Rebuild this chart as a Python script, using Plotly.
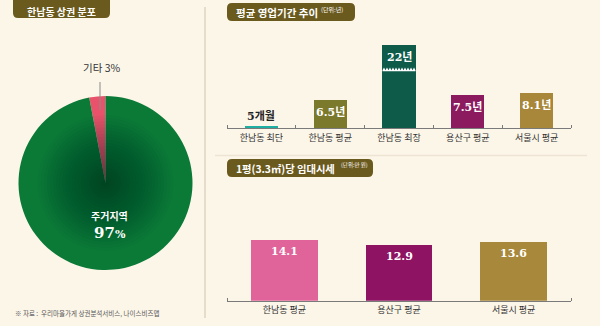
import plotly.graph_objects as go

W, H = 600, 326
BG = "#FCF6E9"
BADGE = "#6B5A1E"
KR = "Noto Sans CJK KR"
SERIF_KR = "DejaVu Serif, Noto Sans CJK KR"

# ---------- data ----------
area_labels = ["기타", "주거지역"]
area_shares = [3, 97]
area_colors = ["#E8536B", "#0B7A37"]

tenure_categories = ["한남동 최단", "한남동 평균", "한남동 최장", "용산구 평균", "서울시 평균"]
tenure_years = [5 / 12, 6.5, 22, 7.5, 8.1]
tenure_labels = ["5개월", "6.5년", "22년", "7.5년", "8.1년"]
tenure_colors = ["#1FAFA2", "#7B792B", "#0E5B4A", "#8C1A5F", "#A8873A"]
TENURE_AXIS_MAX = 18.95   # axis is broken: the 22-year bar is cut off at the top
TENURE_BREAK_AT = 13.2    # where the zigzag break mark is drawn

rent_categories = ["한남동 평균", "용산구 평균", "서울시 평균"]
rent_values = [14.1, 12.9, 13.6]
rent_colors = ["#E0649A", "#8E1363", "#A8883A"]
RENT_AXIS_MAX = 16.0

fig = go.Figure()

# ---------- pie ----------
cx, cy, R = 105.5, 183.0, 87.0
fig.add_trace(go.Pie(
    labels=area_labels, values=area_shares, sort=False,
    direction="clockwise", rotation=-10.8,
    marker=dict(colors=area_colors, line=dict(width=0)),
    textinfo="none", hoverinfo="skip", showlegend=False,
    domain=dict(x=[(cx - R) / W, (cx + R) / W], y=[1 - (cy + R) / H, 1 - (cy - R) / H]),
))

shapes = []
# radial darkening of the pie centre
N = 22
for i in range(N):
    r = R * 0.78 * (1 - i / N)
    shapes.append(dict(type="circle", xref="paper", yref="paper",
                       x0=(cx - r) / W, x1=(cx + r) / W,
                       y0=1 - (cy + r) / H, y1=1 - (cy - r) / H,
                       fillcolor="#002a10", opacity=0.03, line=dict(width=0)))

# ---------- bar charts ----------
fig.add_trace(go.Bar(
    x=list(range(len(tenure_categories))), y=tenure_years, width=0.48,
    marker=dict(color=tenure_colors, line=dict(width=0)),
    xaxis="x", yaxis="y", hoverinfo="skip", showlegend=False,
))
fig.add_trace(go.Bar(
    x=list(range(len(rent_categories))), y=rent_values, width=0.58,
    marker=dict(color=rent_colors, line=dict(width=0)),
    xaxis="x2", yaxis="y2", hoverinfo="skip", showlegend=False,
))

xdom = [227 / W, 571 / W]
y1dom = [1 - 128 / H, 1 - 45 / H]
y2dom = [1 - 300.7 / H, 1 - (300.7 - RENT_AXIS_MAX * 4.3) / H]

axis_common = dict(showline=True, linecolor="#7A7A7A", linewidth=1.3, showgrid=False,
                   zeroline=False, ticks="", fixedrange=True,
                   tickfont=dict(family=KR, size=9, color="#333333"))

fig.update_layout(
    xaxis=dict(domain=xdom, range=[-0.5, len(tenure_categories) - 0.5], anchor="y",
               tickvals=list(range(len(tenure_categories))), ticktext=tenure_categories,
               minor=dict(tickvals=[i - 0.5 for i in range(len(tenure_categories) + 1)],
                          ticks="inside", ticklen=3, tickcolor="#7A7A7A", tickwidth=1),
               ticklabelstandoff=1, **axis_common),
    yaxis=dict(domain=y1dom, range=[0, TENURE_AXIS_MAX], visible=False, anchor="x"),
    xaxis2=dict(domain=xdom, range=[-0.5, len(rent_categories) - 0.5], anchor="y2",
                tickvals=list(range(len(rent_categories))), ticktext=rent_categories,
                minor=dict(tickvals=[-0.5, len(rent_categories) - 0.5],
                           ticks="inside", ticklen=3, tickcolor="#7A7A7A", tickwidth=1),
                ticklabelstandoff=0, **axis_common),
    yaxis2=dict(domain=y2dom, range=[0, RENT_AXIS_MAX], visible=False, anchor="x2"),
)

# zigzag break on the longest bar
bi = tenure_years.index(max(tenure_years))
bw = 0.48
x0b, x1b = bi - bw / 2, bi + bw / 2
teeth = 11
th = 2.6 / 4.38
path = f"M{x0b},{TENURE_BREAK_AT}"
for k in range(teeth):
    xa = x0b + (k + 0.5) * bw / teeth
    xb = x0b + (k + 1) * bw / teeth
    path += f" L{xa},{TENURE_BREAK_AT + th} L{xb},{TENURE_BREAK_AT}"
path += f" L{x1b},{TENURE_BREAK_AT - 0.25} L{x0b},{TENURE_BREAK_AT - 0.25} Z"
shapes.append(dict(type="path", xref="x", yref="y", path=path,
                   fillcolor="#FFFFFF", line=dict(width=0)))

annotations = []
for i, (v, lab) in enumerate(zip(tenure_years, tenure_labels)):
    if v < 2:
        annotations.append(dict(x=i, y=v, xref="x", yref="y", text=f"<b>{lab}</b>",
                                showarrow=False, yanchor="bottom", yshift=1,
                                font=dict(family=SERIF_KR, size=11, color="#222222")))
    else:
        annotations.append(dict(x=i, y=min(v, TENURE_AXIS_MAX), xref="x", yref="y",
                                text=f"<b>{lab}</b>", showarrow=False, yanchor="middle",
                                yshift=-12, font=dict(family=SERIF_KR, size=11, color="white")))
for i, v in enumerate(rent_values):
    annotations.append(dict(x=i, y=v, xref="x2", yref="y2", text=f"<b>{v}</b>",
                            showarrow=False, yanchor="middle", yshift=-11,
                            font=dict(family=SERIF_KR, size=11, color="white")))

# ---------- panels / badges ----------
def rrect(x0, y0, x1, y1, r):
    def p(x, y):
        return f"{x / W},{1 - y / H}"
    return (f"M{p(x0 + r, y0)} L{p(x1 - r, y0)} Q{p(x1, y0)} {p(x1, y0 + r)} "
            f"L{p(x1, y1 - r)} Q{p(x1, y1)} {p(x1 - r, y1)} L{p(x0 + r, y1)} "
            f"Q{p(x0, y1)} {p(x0, y1 - r)} L{p(x0, y0 + r)} Q{p(x0, y0)} {p(x0 + r, y0)} Z")

for (bx0, by0, bx1, by1) in [(13, -6, 110, 18), (227, 3, 355, 21), (227, 159, 373, 177)]:
    shapes.append(dict(type="path", xref="paper", yref="paper", path=rrect(bx0, by0, bx1, by1, 5),
                       fillcolor=BADGE, line=dict(width=0), layer="below"))

# dividers
shapes.append(dict(type="line", xref="paper", yref="paper", x0=205 / W, x1=205 / W,
                   y0=1 - 318 / H, y1=1 - 7 / H, line=dict(color="#E6DCCB", width=2), layer="below"))
shapes.append(dict(type="line", xref="paper", yref="paper", x0=215 / W, x1=587 / W,
                   y0=1 - 155.5 / H, y1=1 - 155.5 / H, line=dict(color="#EDE4D4", width=1.5), layer="below"))

def ptext(x, y, text, size, color="#333333", family=KR, xanchor="center", yanchor="middle"):
    annotations.append(dict(x=x / W, y=1 - y / H, xref="paper", yref="paper", text=text,
                            showarrow=False, xanchor=xanchor, yanchor=yanchor,
                            font=dict(family=family, size=size, color=color)))

ptext(61, 11.5, "<b>한남동 상권 분포</b>", 10, "white")
ptext(234, 12, "<b>평균 영업기간 추이</b>", 10.5, "white", xanchor="left")
ptext(319, 9.5, "(단위:년)", 6, "white", xanchor="left")
ptext(234, 168, "<b>1평(3.3㎡)당 임대시세</b>", 10.3, "white", xanchor="left")
ptext(339, 165.5, "(단위:만 원)", 5.5, "white", xanchor="left")

# pie labels
ptext(101, 67, f"{area_labels[0]} {area_shares[0]}%", 10.5, "#333333")
shapes.append(dict(type="line", xref="paper", yref="paper", x0=100 / W, x1=100 / W,
                   y0=1 - 110 / H, y1=1 - 82 / H, line=dict(color="#8A8A8A", width=1)))
ptext(109, 216, f"<b>{area_labels[1]}</b>", 10, "white")
ptext(110, 233, f"<b>{area_shares[1]}<span style='font-size:11px'>%</span></b>", 15, "white",
      family=SERIF_KR)

ptext(13, 313, "※ 자료 :  우리마을가게 상권분석서비스, 나이스비즈맵", 6.5, "#555555", xanchor="left")

fig.update_layout(
    width=W, height=H, margin=dict(l=0, r=0, t=0, b=0),
    paper_bgcolor=BG, plot_bgcolor="rgba(0,0,0,0)",
    shapes=shapes, annotations=annotations, showlegend=False,
    bargap=0, font=dict(family=KR),
)

fig.write_html("out.html", config={"displayModeBar": False})
